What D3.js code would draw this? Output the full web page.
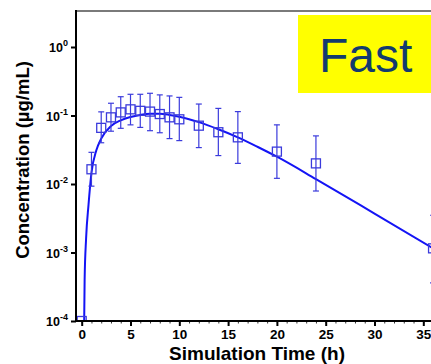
<!DOCTYPE html>
<html><head><meta charset="utf-8">
<script src="https://cdn.jsdelivr.net/npm/d3@7"></script>
<style>html,body{margin:0;padding:0;background:#fff;overflow:hidden;} svg{display:block;font-family:"Liberation Sans",Arial,sans-serif;}</style>
</head><body><svg id="c" width="431" height="364"></svg>
<script>
// ---- data ----
const obsTime = [0, 1, 2, 3, 4, 5, 6, 7, 8, 9, 10, 12, 14, 16, 20, 24, 36];
const obsConc = [0.0001, 0.0164, 0.066, 0.094, 0.111, 0.123, 0.117, 0.114, 0.105, 0.094, 0.088, 0.071, 0.057, 0.048, 0.0297, 0.020, 0.00115];
const obsLow  = [0.0001, 0.0093, 0.040, 0.059, 0.065, 0.073, 0.067, 0.060, 0.056, 0.046, 0.043, 0.034, 0.026, 0.020, 0.0121, 0.0079, 0.00036];
const obsHigh = [0.0001, 0.029, 0.113, 0.151, 0.188, 0.204, 0.204, 0.211, 0.200, 0.193, 0.184, 0.147, 0.127, 0.114, 0.073, 0.0504, 0.0035];
const curveTime = [0.2, 0.3, 0.45, 0.7, 1.0, 1.5, 2, 3, 4, 5, 6, 7, 8, 9, 10, 12, 14, 16, 18, 20, 24, 30, 36];
const curveConc = [0.00002, 0.0004, 0.0016, 0.005, 0.0145, 0.031, 0.046, 0.070, 0.085, 0.095, 0.102, 0.106, 0.106, 0.102, 0.096, 0.080, 0.063, 0.048, 0.035, 0.025, 0.0118, 0.0037, 0.00115];
const xTicks = [0, 5, 10, 15, 20, 25, 30, 35];
const yTicks = [1, 0.1, 0.01, 0.001, 0.0001];
const yTickExp = ["0", "-1", "-2", "-3", "-4"];
const xTitle = "Simulation Time (h)";
const yTitle = "Concentration (µg/mL)";
const badge = "Fast";

// ---- drawing ----
(function () {
const svg = d3.select("#c");
const pL = 76, pT = 11, pB = 321, pR = 440;
const x = d3.scaleLinear().domain([0, 35]).range([81.7, 423.3]);
const y = d3.scaleLog().domain([1e-4, 1]).range([pB, 47]);
const lineCol = "#1414f5", markCol = "#3b3bdc";

svg.append("defs").append("clipPath").attr("id", "clip")
  .append("rect").attr("x", pL).attr("y", pT).attr("width", pR - pL).attr("height", pB - pT);

// top border
svg.append("line").attr("x1", pL).attr("x2", pR).attr("y1", pT).attr("y2", pT)
  .attr("stroke", "#7a7a7a").attr("stroke-width", 2);

// badge
svg.append("rect").attr("x", 298).attr("y", 15).attr("width", 140).attr("height", 78).attr("fill", "#ffff00");
svg.append("text").attr("x", 319).attr("y", 72).attr("font-size", 48).attr("fill", "#133b6e")
  .text(badge);

const plot = svg.append("g").attr("clip-path", "url(#clip)");

// curve
plot.append("path")
  .datum(curveTime.map((t, i) => [t, curveConc[i]]))
  .attr("fill", "none").attr("stroke", lineCol).attr("stroke-width", 2)
  .attr("d", d3.line().x(d => x(d[0])).y(d => y(d[1])).curve(d3.curveMonotoneX));

// error bars
const obs = obsTime.map((t, i) => ({t, c: obsConc[i], lo: obsLow[i], hi: obsHigh[i]}));
const eb = plot.append("g").attr("stroke", markCol).attr("stroke-width", 1.2).attr("fill", "none");
obs.filter(d => d.hi > d.lo).forEach(d => {
  const cx = x(d.t);
  eb.append("line").attr("x1", cx).attr("x2", cx).attr("y1", y(d.hi)).attr("y2", y(d.lo));
  eb.append("line").attr("x1", cx - 3).attr("x2", cx + 3).attr("y1", y(d.hi)).attr("y2", y(d.hi));
  eb.append("line").attr("x1", cx - 3).attr("x2", cx + 3).attr("y1", y(d.lo)).attr("y2", y(d.lo));
});
// markers
plot.append("g").selectAll("rect").data(obs).join("rect")
  .attr("x", d => x(d.t) - 4.5).attr("y", d => y(d.c) - 4.5)
  .attr("width", 9).attr("height", 9)
  .attr("fill", "none").attr("stroke", markCol).attr("stroke-width", 1.3);

// x axis
const xAxisG = svg.append("g").attr("transform", `translate(0,${pB})`);
const xMin = xAxisG.append("g").call(d3.axisBottom(x).tickValues(d3.range(0, 37)).tickSize(2.5).tickFormat(""));
xMin.select(".domain").remove();
xMin.selectAll("line").attr("stroke", "#333").attr("stroke-width", 1);
const xMaj = xAxisG.append("g").call(d3.axisBottom(x).tickValues(xTicks).tickSize(5).tickPadding(3));
xMaj.select(".domain").remove();
xMaj.selectAll("line").attr("stroke", "#000").attr("stroke-width", 2);
xMaj.selectAll("text").attr("font-size", 13.5).attr("font-weight", "bold").attr("fill", "#000")
  .attr("font-family", "Liberation Sans, Arial, sans-serif");
xAxisG.append("line").attr("x1", pL - 1).attr("x2", pR).attr("y1", 0).attr("y2", 0)
  .attr("stroke", "#000").attr("stroke-width", 2);

// y axis
const yAxisG = svg.append("g").attr("transform", `translate(${pL},0)`);
yAxisG.call(d3.axisLeft(y).tickValues(yTicks).tickSize(5).tickFormat(""));
yAxisG.select(".domain").remove();
yAxisG.selectAll("line").attr("stroke", "#000").attr("stroke-width", 2);
yAxisG.append("line").attr("x1", 0).attr("x2", 0).attr("y1", pT - 1).attr("y2", pB + 1)
  .attr("stroke", "#000").attr("stroke-width", 2);

const yLab = svg.append("g").attr("font-weight", "bold").attr("fill", "#000");
yTicks.forEach((v, i) => {
  const t = yLab.append("text").attr("x", 68).attr("y", y(v) + 5).attr("text-anchor", "end")
    .attr("font-size", 12.5);
  t.append("tspan").text("10");
  t.append("tspan").attr("dy", -6).attr("font-size", 9).text(yTickExp[i]);
});

// titles
svg.append("text").attr("x", 257).attr("y", 360).attr("text-anchor", "middle")
  .attr("font-size", 19).attr("font-weight", "bold").text(xTitle);
svg.append("text").attr("transform", "translate(29,160) rotate(-90)").attr("text-anchor", "middle")
  .attr("font-size", 18.5).attr("font-weight", "bold").text(yTitle);
})();
</script></body></html>
